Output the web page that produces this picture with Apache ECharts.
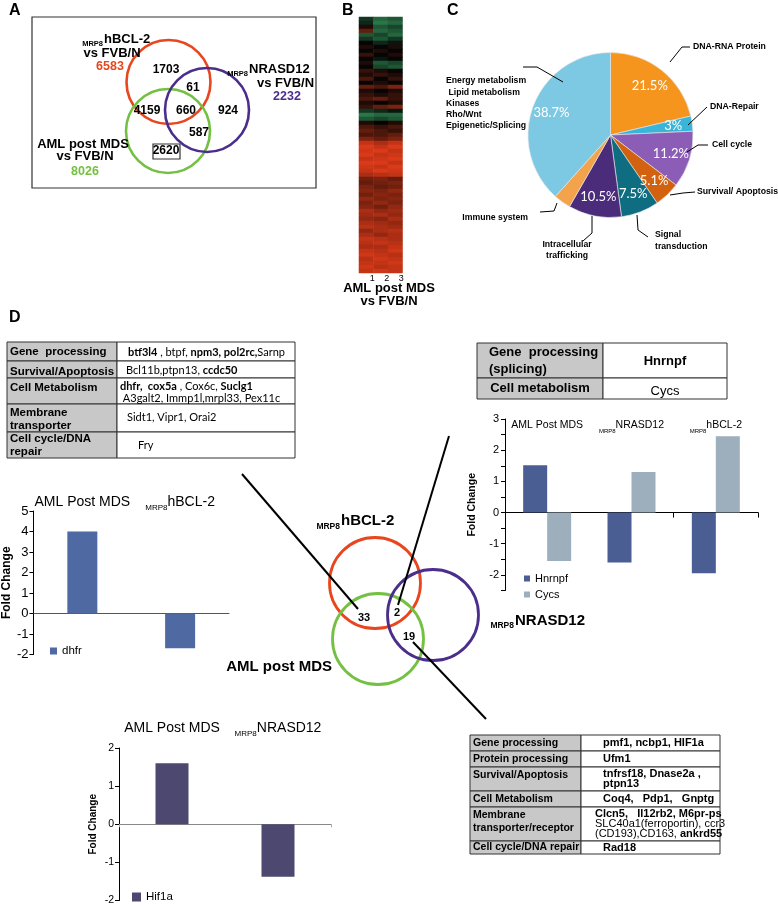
<!DOCTYPE html>
<html><head><meta charset="utf-8">
<script src="https://cdn.jsdelivr.net/npm/echarts@6/dist/echarts.min.js"></script>
<style>html,body{margin:0;padding:0;background:#fff}#c{width:778px;height:906px}</style>
</head><body><div id="c"></div>
<script>
// ---------- DATA ----------
const vennACounts = ['1703', '61', '4159', '660', '924', '587', '2620'];
const vennATotals = ['6583', '2232', '8026'];
const vennDCounts = ['33', '2', '19'];

const pieNames = ['DNA-RNA Protein', 'DNA-Repair', 'Cell cycle', 'Survival/ Apoptosis',
  'Signal transduction', 'Intracellular trafficking', 'Immune system', 'Energy metabolism'];
const pieValues = [21.5, 3, 11.2, 5.1, 7.5, 10.5, 3.4, 38.7];

const heatCols = ['1', '2', '3'];
const heatRows = [
  [-0.3,-0.6,-0.5],[-0.2,-0.7,-0.6],[0.1,-0.5,-0.4],[0.4,-0.6,-0.5],[-0.5,-0.4,-0.6],[-0.3,-0.5,-0.3],
  [0.0,-0.2,-0.1],[0.1,0.0,0.1],[0.0,0.1,0.0],[0.2,0.0,0.1],[0.0,-0.1,0.0],[0.1,-0.5,-0.4],
  [0.0,-0.4,-0.5],[0.2,0.1,0.0],[0.1,0.2,0.1],[0.3,0.0,0.2],[0.0,0.1,0.0],[0.4,0.3,0.5],
  [0.1,0.0,0.1],[0.2,0.1,0.2],[0.3,0.4,0.2],[0.1,0.0,0.1],[0.2,0.4,0.5],[-0.3,-0.2,-0.1],
  [-0.7,-0.6,-0.6],[-0.5,-0.4,-0.5],[0.1,0.0,0.1],[0.3,0.2,0.3],[0.4,0.3,0.2],[0.3,0.3,0.4],
  [0.5,0.4,0.5],[0.8,0.7,0.8],[0.9,0.8,0.9],[0.85,0.9,0.8],[0.9,0.8,0.85],[0.8,0.85,0.9],
  [0.9,0.9,0.8],[0.85,0.8,0.9],[0.8,0.9,0.85],[0.7,0.75,0.8],[0.45,0.5,0.4],[0.4,0.45,0.5],
  [0.5,0.4,0.45],[0.55,0.5,0.6],[0.45,0.55,0.5],[0.6,0.5,0.55],[0.5,0.6,0.5],[0.55,0.45,0.6],
  [0.7,0.6,0.65],[0.65,0.7,0.6],[0.6,0.55,0.7],[0.7,0.65,0.6],[0.75,0.7,0.65],[0.6,0.7,0.75],
  [0.7,0.6,0.7],[0.8,0.75,0.7],[0.75,0.8,0.75],[0.7,0.7,0.8],[0.8,0.75,0.85],[0.85,0.8,0.75],
  [0.75,0.85,0.8],[0.8,0.8,0.85],[0.85,0.75,0.8],[0.8,0.85,0.8]
];

const rightCats = ['AML Post MDS', 'MRP8NRASD12', 'MRP8hBCL-2'];
const hnrnpfValues = [1.52, -1.6, -1.95];
const cycsValues = [-1.55, 1.3, 2.45];

const leftCats = ['AML Post MDS', 'MRP8hBCL-2'];
const dhfrValues = [4.0, -1.7];

const bottomCats = ['AML Post MDS', 'MRP8NRASD12'];
const hif1aValues = [1.6, -1.38];

const table1Left = ['Gene  processing', 'Survival/Apoptosis', 'Cell Metabolism', 'Membrane\ntransporter', 'Cell cycle/DNA\nrepair'];
const table1Right = ['{b|btf3l4} , btpf, {b|npm3, pol2rc,}Sarnp', 'Bcl11b,ptpn13, {b|ccdc50}',
  '{b|dhfr,  cox5a} , Cox6c, {b|Suclg1}\n A3galt2, Immp1l,mrpl33, Pex11c', 'Sidt1, Vipr1, Orai2', 'Fry'];
const table2Left = ['Gene  processing\n(splicing)', 'Cell metabolism'];
const table2Right = ['{b|Hnrnpf}', 'Cycs'];
const table3Left = ['Gene processing', 'Protein processing', 'Survival/Apoptosis', 'Cell Metabolism',
  'Membrane\ntransporter/receptor', 'Cell cycle/DNA repair'];
const table3Right = ['pmf1, ncbp1, HIF1a', 'Ufm1', 'tnfrsf18, Dnase2a ,\nptpn13', 'Coq4,   Pdp1,   Gnptg',
  'Clcn5,   Il12rb2, M6pr-ps\n{n|SLC40a1(ferroportin), ccr3}\n{n|(CD193),CD163,} ankrd55', 'Rad18'];

// ---------- STYLE ----------
const F = "'Liberation Sans', Arial, sans-serif";
const FC = "Lato, 'Open Sans', sans-serif";
const pieColors = ['#F5951E', '#3AB5DA', '#8C5DB6', '#D2620F', '#0E6D80', '#4A2C7A', '#F2A34C', '#7DC8E2'];
const RED = '#E8461E', GREEN = '#74C043', PURPLE = '#4B2E8C';

function txt(x, y, text, o) {
  o = o || {};
  const st = {
    text: text, fill: o.fill || '#000',
    font: (o.bold ? 'bold ' : '') + (o.size || 12) + 'px ' + (o.family || F),
    align: o.align || 'left', textAlign: o.align || 'left',
    verticalAlign: o.va || 'middle', textVerticalAlign: o.va || 'middle'
  };
  if (o.lh) st.lineHeight = o.lh;
  if (o.rich) st.rich = o.rich;
  return { type: 'text', x: x, y: y, silent: true, z: 10, style: st };
}
function circ(cx, cy, r, color, w) {
  return { type: 'circle', shape: { cx: cx, cy: cy, r: r }, silent: true, z: 5,
    style: { fill: 'none', stroke: color, lineWidth: w } };
}
function line(pts, w) {
  return { type: 'polyline', shape: { points: pts }, silent: true, z: 6,
    style: { fill: 'none', stroke: '#000', lineWidth: w || 1 } };
}
function rect(x, y, w, h, fill, sw) {
  return { type: 'rect', shape: { x: x, y: y, width: w, height: h }, silent: true, z: 3,
    style: { fill: fill || 'none', stroke: '#333', lineWidth: sw || 1 } };
}
function table(xs, ys, left, right, opt) {
  const g = [];
  for (let i = 0; i < left.length; i++) {
    const y0 = ys[i], y1 = ys[i + 1], cy = (y0 + y1) / 2;
    g.push(rect(xs[0], y0, xs[1] - xs[0], y1 - y0, '#C8C8C8'));
    g.push(rect(xs[1], y0, xs[2] - xs[1], y1 - y0, '#fff'));
    const la = opt.leftAlign ? opt.leftAlign[i] : 'left';
    const lx = la === 'center' ? (xs[0] + xs[1]) / 2 : xs[0] + opt.lpad;
    g.push(txt(lx, cy + (opt.ldy ? opt.ldy[i] : 0), left[i], { bold: true, size: opt.lsize, align: la, lh: opt.llh }));
    const ra = opt.rightAlign ? opt.rightAlign[i] : 'left';
    const rx = ra === 'center' ? (xs[1] + xs[2]) / 2 : xs[1] + (opt.rpad[i] || 0);
    g.push(txt(rx, cy + (opt.rdy ? opt.rdy[i] : 0), right[i], { bold: opt.rbold, size: opt.rsize, family: opt.rfamily,
      align: ra, lh: opt.rlh, rich: opt.rich }));
  }
  return g;
}
function catLabel(v) {
  return v.indexOf('MRP8') === 0 ? '{s|MRP8}{m|' + v.slice(4) + '}' : '{m|' + v + '}';
}
function richCat(size) {
  return { s: { fontSize: Math.round(size * 0.55), fontFamily: F, color: '#000', verticalAlign: 'bottom' },
           m: { fontSize: size, fontFamily: F, color: '#000', verticalAlign: 'bottom', padding: [0, 0, 3, 0] } };
}

// ---------- GRAPHICS ----------
const G = [];
// panel letters
G.push(txt(9, 11, 'A', { bold: true, size: 16 }));
G.push(txt(342, 11, 'B', { bold: true, size: 16 }));
G.push(txt(447, 11, 'C', { bold: true, size: 16 }));
G.push(txt(9, 318, 'D', { bold: true, size: 16 }));
// Panel A
G.push(rect(32, 17, 284, 171, 'none', 1.2));
G.push(circ(168.5, 82, 42, RED, 2.6));
G.push(circ(168, 131, 42, GREEN, 2.6));
G.push(circ(207, 110, 42, PURPLE, 2.6));
const aPos = [[166, 70], [193, 88], [147, 111], [186, 111], [228, 111], [199, 133], [166, 151]];
vennACounts.forEach((t, i) => G.push(txt(aPos[i][0], aPos[i][1], t, { bold: true, size: 12, align: 'center' })));
G.push(rect(153, 144, 27, 15, 'none', 1.2));
G.push(txt(103, 44, 'MRP8', { bold: true, size: 7.5, align: 'right' }));
G.push(txt(104, 39, 'hBCL-2', { bold: true, size: 13 }));
G.push(txt(112, 53, 'vs FVB/N', { bold: true, size: 13, align: 'center' }));
G.push(txt(110, 67, vennATotals[0], { bold: true, size: 12.5, align: 'center', fill: RED }));
G.push(txt(248, 74, 'MRP8', { bold: true, size: 7.5, align: 'right' }));
G.push(txt(249, 69, 'NRASD12', { bold: true, size: 13 }));
G.push(txt(257, 83, 'vs FVB/N', { bold: true, size: 13 }));
G.push(txt(287, 97, vennATotals[1], { bold: true, size: 12.5, align: 'center', fill: PURPLE }));
G.push(txt(83, 144, 'AML post MDS', { bold: true, size: 13, align: 'center' }));
G.push(txt(85, 156, 'vs FVB/N', { bold: true, size: 13, align: 'center' }));
G.push(txt(85, 172, vennATotals[2], { bold: true, size: 12.5, align: 'center', fill: GREEN }));
// Panel B caption
G.push(txt(389, 288, 'AML post MDS', { bold: true, size: 13, align: 'center' }));
G.push(txt(389, 301, 'vs FVB/N', { bold: true, size: 13, align: 'center' }));
// Panel C leaders + labels
const LS = 8.7;
G.push(line([[670, 62], [682, 47], [690, 47]]));
G.push(txt(693, 47, 'DNA-RNA Protein', { bold: true, size: LS }));
G.push(line([[688, 125], [707, 107]]));
G.push(txt(710, 107, 'DNA-Repair', { bold: true, size: LS }));
G.push(line([[687, 152], [698, 145], [708, 145]]));
G.push(txt(712, 145, 'Cell cycle', { bold: true, size: LS }));
G.push(line([[670, 195], [683, 193], [695, 192]]));
G.push(txt(697, 192, 'Survival/ Apoptosis', { bold: true, size: LS }));
G.push(line([[637, 215], [638, 230], [648, 237]]));
G.push(txt(655, 241, 'Signal\ntransduction', { bold: true, size: LS, lh: 12 }));
G.push(line([[592, 216], [592, 233], [583, 241]]));
G.push(txt(567, 250, 'Intracellular\ntrafficking', { bold: true, size: LS, lh: 11, align: 'center' }));
G.push(line([[540, 212], [554, 211], [557, 203]]));
G.push(txt(528, 218, 'Immune system', { bold: true, size: LS, align: 'right' }));
G.push(line([[523, 67], [537, 67], [563, 82]]));
G.push(txt(446, 103.5, 'Energy metabolism\n Lipid metabolism\nKinases\nRho/Wnt\nEpigenetic/Splicing', { bold: true, size: LS, lh: 11.3 }));
// Panel D tables
G.push(...table([7, 117, 295], [342, 361, 378, 404, 432, 458], table1Left, table1Right, {
  lpad: 3, lsize: 11.5, llh: 13, ldy: [0, 2, -3, 1, 0],
  rpad: [11, 9, 3, 10, 21], rsize: 11, rfamily: FC, rlh: 12, rdy: [1, 1, 1, -1, 0],
  rich: { b: { fontWeight: 'bold', fontSize: 11, fontFamily: FC } }
}));
G.push(...table([477, 603, 727], [343, 378, 399], table2Left, table2Right, {
  lpad: 12, lsize: 13, llh: 17, leftAlign: ['left', 'center'], ldy: [0, 0],
  rpad: [0, 0], rsize: 13, rfamily: F, rightAlign: ['center', 'center'], rdy: [1, 3],
  rich: { b: { fontWeight: 'bold', fontSize: 13, fontFamily: F } }
}));
G.push(...table([470, 581, 720], [735, 751, 767, 791, 807, 841, 854], table3Left, table3Right, {
  lpad: 3, lsize: 10.5, llh: 13, ldy: [0, 0, -4, 0, -2, 0],
  rpad: [22, 22, 22, 22, 14, 22], rbold: true, rsize: 11, rfamily: F, rlh: 10, rdy: [0, 0, 0, 0, 0, 0],
  rich: { n: { fontWeight: 'normal', fontSize: 11, fontFamily: F, color: '#666', lineHeight: 10 } }
}));
// Panel D venn
G.push(line([[242, 474], [358, 609]], 2));
G.push(line([[449, 436], [398, 605]], 2));
G.push(line([[413, 642], [486, 719]], 2));
G.push(circ(375, 583, 45.5, RED, 2.8));
G.push(circ(378, 639, 45.5, GREEN, 2.8));
G.push(circ(433, 615, 45.5, PURPLE, 2.8));
const dPos = [[364, 618], [397, 613], [409, 637]];
vennDCounts.forEach((t, i) => G.push(txt(dPos[i][0], dPos[i][1], t, { bold: true, size: 11, align: 'center' })));
G.push(txt(340, 527, 'MRP8', { bold: true, size: 8.5, align: 'right' }));
G.push(txt(341, 521, 'hBCL-2', { bold: true, size: 15 }));
G.push(txt(332, 667, 'AML post MDS', { bold: true, size: 15, align: 'right' }));
G.push(txt(514, 626, 'MRP8', { bold: true, size: 8.5, align: 'right' }));
G.push(txt(515, 621, 'NRASD12', { bold: true, size: 15 }));

// ---------- CHART ----------
const heatData = [];
heatRows.forEach((r, i) => r.forEach((v, j) => heatData.push([j, i, v])));

const chart = echarts.init(document.getElementById('c'), null, { renderer: 'canvas' });
const axisBlack = { lineStyle: { color: '#000', width: 1 } };
chart.setOption({
  animation: false,
  backgroundColor: '#fff',
  textStyle: { fontFamily: F },
  grid: [
    { left: 359, top: 17, width: 43.5, height: 256 },
    { left: 505, top: 419, width: 253, height: 171.5 },
    { left: 33, top: 511, width: 196, height: 143.5 },
    { left: 119, top: 748, width: 212, height: 154 }
  ],
  xAxis: [
    { gridIndex: 0, type: 'category', data: heatCols, axisLine: { show: false }, axisTick: { show: false },
      axisLabel: { fontSize: 9, color: '#000', margin: 1, padding: [0, 0, 0, 12] } },
    { gridIndex: 1, type: 'category', data: rightCats, axisLine: axisBlack,
      axisTick: { show: true, length: 5, lineStyle: { color: '#000' } }, axisLabel: { show: false } },
    { gridIndex: 1, type: 'category', data: rightCats, position: 'top', axisLine: { show: false }, axisTick: { show: false },
      axisLabel: { inside: true, interval: 0, margin: 1, formatter: catLabel, rich: richCat(10.5) } },
    { gridIndex: 2, type: 'category', data: leftCats, axisLine: { lineStyle: { color: '#555' } }, axisTick: { show: false },
      axisLabel: { show: false } },
    { gridIndex: 2, type: 'category', data: leftCats, position: 'top', axisLine: { show: false }, axisTick: { show: false },
      axisLabel: { interval: 0, margin: -1, formatter: catLabel, rich: richCat(14) } },
    { gridIndex: 3, type: 'category', data: bottomCats, axisLine: { lineStyle: { color: '#888' } },
      axisTick: { show: true, length: 3, lineStyle: { color: '#aaa' } }, axisLabel: { show: false } },
    { gridIndex: 3, type: 'category', data: bottomCats, position: 'top', axisLine: { show: false }, axisTick: { show: false },
      axisLabel: { interval: 0, margin: 10, formatter: catLabel, rich: richCat(14) } }
  ],
  yAxis: [
    { gridIndex: 0, type: 'category', data: heatRows.map((r, i) => String(i)), inverse: true, show: false },
    { gridIndex: 1, type: 'value', min: -2.5, max: 3, interval: 0.5, splitLine: { show: false },
      axisLine: { show: true, lineStyle: { color: '#000' } }, axisTick: { show: true, length: 4, lineStyle: { color: '#000' } },
      axisLabel: { fontSize: 11, color: '#000', margin: 6, formatter: v => (Number.isInteger(v) ? String(v) : '') },
      name: 'Fold Change', nameLocation: 'middle', nameGap: 27, nameTextStyle: { fontWeight: 'bold', fontSize: 10.5, color: '#000' } },
    { gridIndex: 2, type: 'value', min: -2, max: 5, interval: 1, splitLine: { show: false },
      axisLine: { show: true, lineStyle: { color: '#000' } }, axisTick: { show: true, length: 4, lineStyle: { color: '#000' } },
      axisLabel: { fontSize: 13, color: '#000', margin: 5 },
      name: 'Fold Change', nameLocation: 'middle', nameGap: 19, nameTextStyle: { fontWeight: 'bold', fontSize: 12, color: '#000' } },
    { gridIndex: 3, type: 'value', min: -2, max: 2, interval: 1, splitLine: { show: false },
      axisLine: { show: true, lineStyle: { color: '#000' } }, axisTick: { show: true, length: 4, lineStyle: { color: '#000' } },
      axisLabel: { fontSize: 10.5, color: '#000', margin: 5 },
      name: 'Fold Change', nameLocation: 'middle', nameGap: 21, nameTextStyle: { fontWeight: 'bold', fontSize: 10, color: '#000' } }
  ],
  legend: [
    { data: ['Hnrnpf', 'Cycs'], orient: 'vertical', left: 519, top: 568, icon: 'rect', itemWidth: 6, itemHeight: 6, itemGap: 5,
      textStyle: { fontSize: 11, color: '#000', fontFamily: F }, selectedMode: false },
    { data: ['dhfr'], left: 45, top: 640, icon: 'rect', itemWidth: 7, itemHeight: 7,
      textStyle: { fontSize: 11.5, color: '#000', fontFamily: F }, selectedMode: false },
    { data: ['Hif1a'], left: 127, top: 886, icon: 'rect', itemWidth: 9, itemHeight: 9,
      textStyle: { fontSize: 11.5, color: '#000', fontFamily: F }, selectedMode: false }
  ],
  visualMap: { show: false, seriesIndex: 0, min: -1, max: 1, inRange: { color: ['#38A865', '#050505', '#F2401A'] } },
  series: [
    { type: 'heatmap', xAxisIndex: 0, yAxisIndex: 0, data: heatData, silent: true },
    { name: 'Hnrnpf', type: 'bar', xAxisIndex: 1, yAxisIndex: 1, data: hnrnpfValues, barWidth: 24, barGap: '0%',
      itemStyle: { color: '#4A5E94' } },
    { name: 'Cycs', type: 'bar', xAxisIndex: 1, yAxisIndex: 1, data: cycsValues, barWidth: 24, barGap: '0%',
      itemStyle: { color: '#9DAEBD' } },
    { name: 'dhfr', type: 'bar', xAxisIndex: 3, yAxisIndex: 2, data: dhfrValues, barWidth: 30,
      itemStyle: { color: '#4F69A2' } },
    { name: 'Hif1a', type: 'bar', xAxisIndex: 5, yAxisIndex: 3, data: hif1aValues, barWidth: 33,
      itemStyle: { color: '#4C4870' } },
    { type: 'pie', center: [610.5, 135], radius: [0, 82.5], startAngle: 90, clockwise: true, silent: true,
      data: pieNames.map((n, i) => ({ name: n, value: pieValues[i], itemStyle: { color: pieColors[i] } })),
      itemStyle: { borderColor: 'rgba(230,230,230,0.8)', borderWidth: 0.8 }, label: { show: false }, labelLine: { show: false } },
    { type: 'pie', center: [610.5, 135], radius: [38, 82.5], startAngle: 90, clockwise: true, silent: true, z: 3,
      data: pieNames.map((n, i) => ({ name: n, value: pieValues[i] })),
      itemStyle: { color: 'rgba(0,0,0,0)' },
      label: { show: true, position: 'inside', formatter: p => p.value + '%', color: '#fff', fontSize: 13, fontFamily: FC },
      labelLine: { show: false } }
  ],
  graphic: G
});
</script></body></html>
